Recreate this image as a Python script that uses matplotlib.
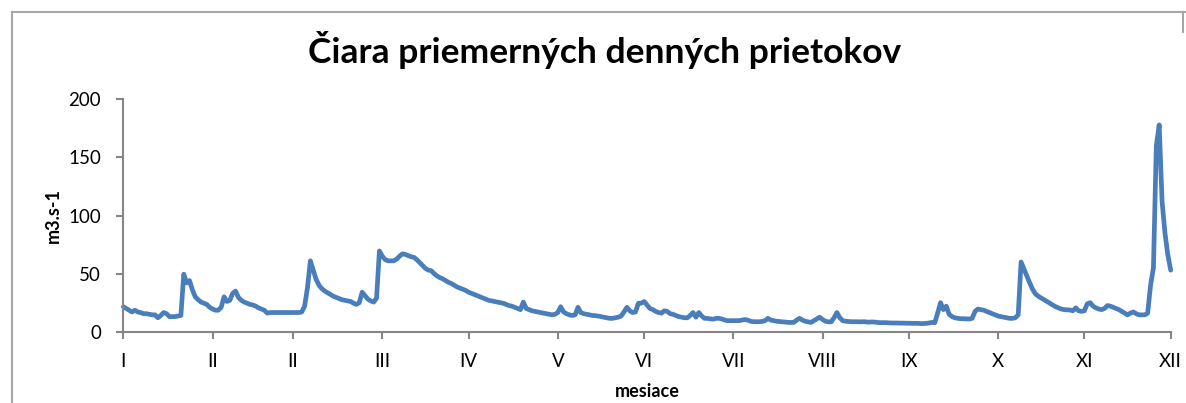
import numpy as np
import matplotlib.pyplot as plt
from matplotlib.lines import Line2D

plt.rcParams['font.family'] = ['Lato', 'DejaVu Sans']

# mean daily discharge [m3/s], one list per month
jan = [21.5, 20, 18.5, 17, 18.5, 17, 16.5, 15.5, 15.5, 15, 14.5, 14.5, 12, 14, 16.5, 15.5,
       13, 13, 13, 13.5, 14, 49.5, 42, 44, 36, 30, 27.5, 25.5, 24.5, 23.5, 21]
feb = [19.5, 18.5, 18.5, 21, 30, 26, 27, 33, 35, 29.5, 27, 25.5, 24.5, 23.5, 23, 22,
       20.5, 19.5, 18.5, 16, 16.5, 16.5, 16.5, 16.5, 16.5, 16.5, 16.5, 16.5]
mar = [16.5, 16.5, 16.5, 17, 22, 38, 61, 53, 45, 40, 37, 35, 33.5, 32, 30.5, 29.5,
       28.5, 27.5, 27, 26.5, 26, 24.5, 23.5, 25, 34, 31, 28, 26.5, 25.5, 29, 69.5]
apr = [65, 62, 61, 61, 61, 62.5, 65, 67, 66.5, 65.5, 64.5, 64, 62, 59.5, 57, 54.5,
       53, 52.5, 50, 48, 46.5, 45.5, 44, 42.5, 41.5, 40, 38.5, 37.5, 36.5, 35.5]
may = [34, 33, 32, 31, 30, 29, 28, 27, 26.5, 26, 25.5, 25, 24.5, 23.5, 22.5, 22,
       21, 20, 19, 25.5, 20, 19, 18, 17.5, 17, 16.5, 16, 15.5, 15, 14.5, 15]
jun = [16.5, 21.5, 17, 15.5, 14.5, 14, 14.5, 21, 16.5, 15.5, 15, 14.5, 14, 13.8, 13.5, 13,
       12.5, 12, 11.5, 11.5, 12, 12.5, 13.5, 17, 21, 18, 16.5, 17, 24.5, 24.5]
jul = [26, 23, 20, 19, 17.5, 16.5, 16, 18, 17.5, 15.5, 15, 14, 13, 12.5, 12, 12,
       14, 16.5, 12.5, 16.5, 13.5, 11.5, 11.5, 11, 10.8, 11.5, 11.5, 11, 10, 9.5, 9.5]
aug = [9.5, 9.5, 9.5, 10, 10.5, 10, 9, 8.6, 8.6, 8.6, 8.8, 9.5, 11.5, 10, 9.5, 9,
       8.8, 8.5, 8.3, 8, 8, 8, 10, 11.5, 10, 9, 8.5, 8, 9.5, 11, 12.5]
sep = [10.5, 9, 8.5, 8.5, 12, 16.5, 12, 9.5, 9, 8.8, 8.6, 8.6, 8.6, 8.5, 8.6, 8.5,
       8.2, 8.4, 8.3, 8, 7.8, 7.8, 7.8, 7.6, 7.5, 7.5, 7.5, 7.4, 7.4, 7.3]
oct_ = [7.3, 7.2, 7.2, 7.2, 7, 7, 7.2, 7.5, 8, 7.7, 16, 25, 19, 22, 15, 13,
        12, 11.5, 11.2, 11.2, 11, 11, 11.5, 17.5, 19.5, 19, 18.5, 17.5, 16.5, 15.5, 14.5]
nov = [13.5, 13, 12.5, 12, 11.5, 11.5, 12, 14.5, 60, 54, 48, 42, 36.5, 32.5, 30.5, 29,
       27.5, 26, 24.5, 23, 21.5, 20.5, 19.5, 19, 18.8, 18.7, 18, 20.5, 18, 17.5]
dec = [18, 24, 25, 22, 20.5, 19.5, 19, 20, 22.5, 22, 21, 20, 19, 17.5, 16, 14.5,
       16, 17, 15.5, 14.5, 14.5, 14.5, 16, 40, 55, 160, 178, 112, 85, 66, 53]

flow = np.array(jan + feb + mar + apr + may + jun + jul + aug + sep + oct_ + nov + dec)
days = np.arange(len(flow))

month_ticks = [0, 31, 59, 90, 120, 151, 181, 212, 243, 273, 304, 334, 364]
month_labels = ['I', 'II', 'II', 'III', 'IV', 'V', 'VI', 'VII', 'VIII', 'IX', 'X', 'XI', 'XII']
y_ticks = [0, 50, 100, 150, 200]

grey = '#868686'

fig = plt.figure(figsize=(11.86, 4.03), dpi=100)

# chart frame
fig.add_artist(Line2D([12/1186, 12/1186], [0, 1 - 12/403], color='#a6a6a6', lw=1.5))
fig.add_artist(Line2D([12/1186, 1], [1 - 12/403, 1 - 12/403], color='#a6a6a6', lw=1.5))
fig.add_artist(Line2D([1183/1186, 1183/1186], [1 - 12/403, 1 - 32/403], color='#a6a6a6', lw=1.5))

ax = fig.add_axes([0.104, 0.1769, 0.8831, 0.5767])
ax.plot(days, flow, color='#4a7ebb', lw=3.4, solid_joinstyle='round', solid_capstyle='round',
        clip_on=False)

ax.set_xlim(0, 364)
ax.set_ylim(0, 200)
ax.set_yticks(y_ticks)
ax.set_xticks(month_ticks)
ax.set_xticklabels(month_labels)

for s in ['top', 'right']:
    ax.spines[s].set_visible(False)
for s in ['left', 'bottom']:
    ax.spines[s].set_color(grey)
    ax.spines[s].set_linewidth(1.5)

ax.tick_params(axis='both', direction='out', length=5, width=1.5, color=grey,
               labelsize=13.5, labelcolor='black')
ax.tick_params(axis='x', pad=10)
ax.tick_params(axis='y', pad=11)

ax.set_ylabel('m3.s-1', fontsize=13, fontweight='bold', va='center')
ax.yaxis.set_label_coords(-0.067, 0.5)
ax.set_xlabel('mesiace', fontsize=13, fontweight='bold', va='center')
ax.xaxis.set_label_coords(0.5, -0.258)

fig.text(605/1186, 1 - 50/403, 'Čiara priemerných denných prietokov',
         fontsize=25.5, fontweight='bold', ha='center', va='center')

fig.savefig('out.png', dpi=100)
